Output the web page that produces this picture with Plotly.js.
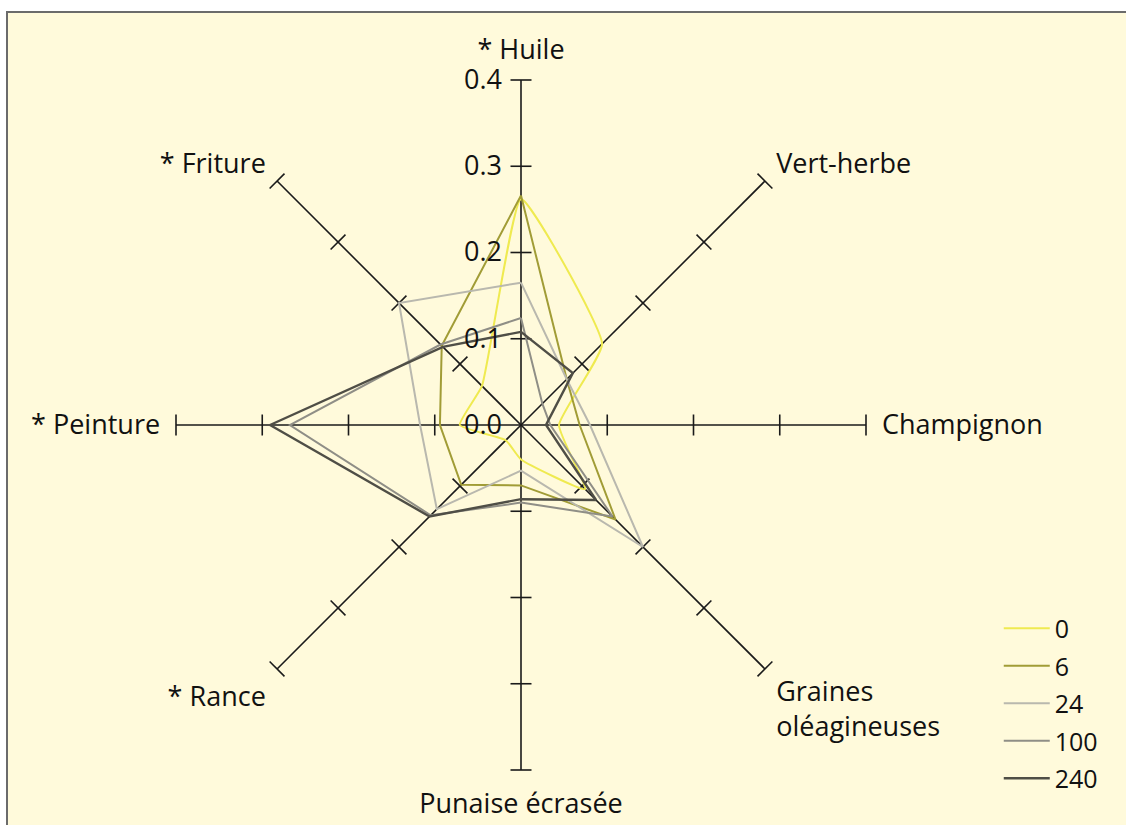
<!DOCTYPE html>
<html>
<head>
<meta charset="utf-8">
<script src="https://cdn.plot.ly/plotly-3.0.1.min.js"></script>
<style>html,body{margin:0;padding:0;background:#fff;}#chart{width:1126px;height:825px;}</style>
</head>
<body>
<div id="chart"></div>
<script>
// Axes, clockwise from the top
const categories = ['* Huile', 'Vert-herbe', 'Champignon', 'Graines<br>oléagineuses',
                    'Punaise écrasée', '* Rance', '* Peinture', '* Friture'];
const seriesNames = ['0', '6', '24', '100', '240'];
const values0   = [0.262, 0.133, 0.044, 0.105, 0.040, 0.025, 0.071, 0.064];
const values6   = [0.266, 0.075, 0.068, 0.155, 0.070, 0.098, 0.094, 0.130];
const values24  = [0.165, 0.075, 0.080, 0.200, 0.053, 0.138, 0.117, 0.200];
const values100 = [0.124, 0.035, 0.034, 0.150, 0.090, 0.148, 0.268, 0.132];
const values240 = [0.108, 0.085, 0.029, 0.123, 0.086, 0.150, 0.291, 0.128];
const tickValues = [0, 0.1, 0.2, 0.3, 0.4];
const tickLabels = ['0.0', '0.1', '0.2', '0.3', '0.4'];

const allValues = [values0, values6, values24, values100, values240];
const colors = ['#EFEA50', '#A19C36', '#B9B8AE', '#8F8E86', '#4F4E46'];
const widths = [2, 2, 2, 2, 2.4];
const shapes = ['spline', 'linear', 'linear', 'linear', 'linear'];

const FONT = '"Open Sans", "Noto Sans", sans-serif';
const traces = [];

// tick marks on every spoke (perpendicular to the spoke)
const tickR = [], tickT = [], tickA = [];
categories.forEach((c, i) => {
  tickValues.slice(1).forEach(v => {
    tickR.push(v); tickT.push(c); tickA.push(i * 45);
  });
});
traces.push({
  type: 'scatterpolar', mode: 'markers', r: tickR, theta: tickT,
  showlegend: false, hoverinfo: 'skip',
  marker: {symbol: 'line-ew', size: 15, angle: tickA,
           line: {color: '#1a1a1a', width: 1.6}, color: '#1a1a1a'}
});

allValues.forEach((vals, k) => {
  traces.push({
    type: 'scatterpolar', mode: 'lines', name: seriesNames[k],
    legendgroup: 'g' + k,
    r: vals.concat([vals[0]]), theta: categories.concat([categories[0]]),
    line: {color: colors[k], width: widths[k], shape: shapes[k], smoothing: 0.4}
  });
});

const layout = {
  width: 1126, height: 825,
  margin: {l: 0, r: 0, t: 0, b: 0},
  paper_bgcolor: '#ffffff',
  font: {family: FONT, color: '#111111', size: 27},
  shapes: [
    {type: 'rect', xref: 'paper', yref: 'paper', x0: 7/1126, x1: 1.02, y0: -0.02, y1: 1 - 12/825,
     fillcolor: '#FFFADB', line: {color: '#6b6b6b', width: 2}, layer: 'below'}
  ],
  polar: {
    domain: {x: [176/1126, 866/1126], y: [55/825, 745/825]},
    bgcolor: 'rgba(0,0,0,0)',
    angularaxis: {
      type: 'category', rotation: 90, direction: 'clockwise',
      showline: false, showgrid: true, gridcolor: '#1a1a1a', gridwidth: 1.6,
      ticks: 'outside', ticklen: 10, tickcolor: 'rgba(0,0,0,0)',
      tickfont: {family: FONT, size: 27, color: '#111'}
    },
    radialaxis: {
      range: [0, 0.4], angle: 90, side: 'counterclockwise', tickangle: 90,
      showgrid: false, showline: false,
      ticks: 'outside', ticklen: 9, tickcolor: 'rgba(0,0,0,0)',
      tickmode: 'array', tickvals: tickValues, ticktext: tickLabels,
      tickfont: {family: FONT, size: 27, color: '#111'}
    }
  },
  legend: {
    x: 0.887, xanchor: 'left', y: 0.266, yanchor: 'top',
    bgcolor: 'rgba(0,0,0,0)', itemwidth: 46,
    traceorder: 'grouped', tracegroupgap: 2,
    font: {family: FONT, size: 25, color: '#111'}
  },
  showlegend: true
};

Plotly.newPlot('chart', traces, layout, {staticPlot: true, displayModeBar: false});
</script>
</body>
</html>
